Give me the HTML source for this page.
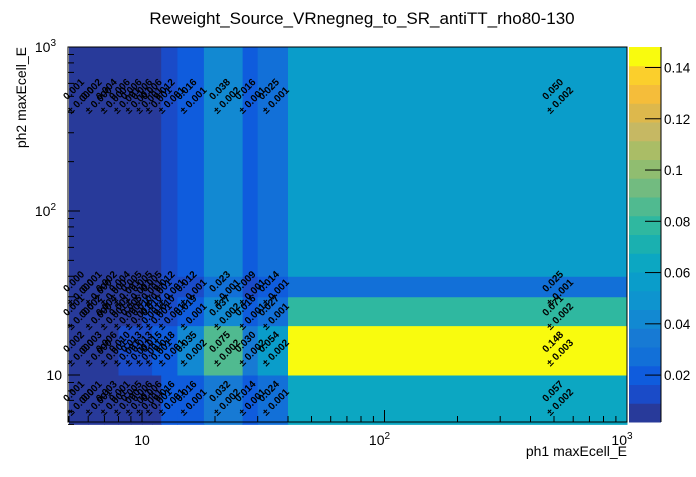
<!DOCTYPE html>
<html><head><meta charset="utf-8"><style>
body{margin:0;background:#fff;}
svg text{font-family:"Liberation Sans",sans-serif;}
</style></head><body>
<svg id="c" width="696" height="472" xmlns="http://www.w3.org/2000/svg">
<text x="362" y="24" font-size="17" text-anchor="middle">Reweight_Source_VRnegneg_to_SR_antiTT_rho80-130</text>
<g id="cells"></g><g id="labels"></g><g id="axes"></g><g id="cbar"></g>
<text x="627" y="456" font-size="14" text-anchor="end">ph1 maxEcell_E</text>
<text transform="translate(26,47) rotate(-90)" font-size="14" text-anchor="end">ph2 maxEcell_E</text>
</svg>
<script>
const xEdges=[5,6,7,8,9,10,11,12,14,18,26,30,40,1000];
const yEdges=[5,10,20,30,40,1000];
const row0=[0.001,0.001,0.003,0.001,0.005,0.006,0.006,0.016,0.016,0.032,0.014,0.024,0.057];
const row1=[0.002,0.003,0.006,0.010,0.013,0.013,0.015,0.018,0.035,0.075,0.030,0.054,0.148];
const row2=[0.001,0.002,0.004,0.001,0.005,0.010,0.010,0.010,0.019,0.037,0.016,0.027,0.071];
const row3=[0.000,0.001,0.002,0.004,0.005,0.005,0.005,0.012,0.012,0.023,0.009,0.014,0.025];
const row4=[0.001,0.002,0.004,0.006,0.006,0.006,0.006,0.012,0.016,0.038,0.016,0.025,0.050];
const err0=[0.000,0.001,0.001,0.000,0.001,0.001,0.001,0.001,0.001,0.002,0.001,0.001,0.002];
const err1=[0.000,0.000,0.001,0.001,0.001,0.001,0.001,0.001,0.002,0.002,0.002,0.002,0.003];
const err2=[0.000,0.000,0.001,0.000,0.001,0.001,0.001,0.001,0.001,0.002,0.001,0.001,0.002];
const err3=[0.000,0.000,0.000,0.001,0.001,0.001,0.001,0.001,0.001,0.001,0.001,0.001,0.001];
const err4=[0.000,0.000,0.000,0.001,0.001,0.001,0.001,0.001,0.001,0.002,0.001,0.001,0.002];
const cbTicks=[0.02,0.04,0.06,0.08,0.1,0.12,0.14];
const palette=["#283a9a","#1a4bc8","#0f5cdd","#1270d8","#177ad4","#1289d2","#0e94cf","#0a9dca","#0ca7c2","#1ab0b0","#2fb8a0","#50ba90","#72bb80","#90bd70","#aabd66","#c6b863","#ddb84c","#f5bd3a","#fbcf2c","#f9fb0e"];
const zMin=0.0017,zMax=0.148,colorStep=0.0068;
const X0=68,X1=627,Y0=47,Y1=422;
function xs(v){return 142+242.5*(Math.log10(v)-1);}
function ys(v){return 375-164*(Math.log10(v)-1);}
function col(v){let b=Math.floor(v/colorStep);b=Math.max(0,Math.min(19,b));return palette[b];}
const NS="http://www.w3.org/2000/svg";
function mk(t,a,p){const e=document.createElementNS(NS,t);for(const k in a)e.setAttribute(k,a[k]);p.appendChild(e);return e;}
const rows=[row0,row1,row2,row3,row4],errs=[err0,err1,err2,err3,err4];
const cells=document.getElementById('cells'),labels=document.getElementById('labels');
for(let j=0;j<rows.length;j++)for(let i=0;i<xEdges.length-1;i++){
 const v=rows[j][i];
 const x=xs(xEdges[i]),x2=xs(xEdges[i+1]),y=ys(yEdges[j+1]),y2=ys(yEdges[j]);
 const r=mk('rect',{x:x,y:y,width:x2-x+0.5,height:y2-y+0.5,fill:col(v)},cells);
 
 
 const cx=xs((xEdges[i]+xEdges[i+1])/2),cy=ys((yEdges[j]+yEdges[j+1])/2);
 const t=mk('text',{x:cx-3,y:cy-2,'font-size':10,'font-weight':'bold','text-anchor':'middle',transform:`rotate(-45 ${cx-3} ${cy-2})`},labels);
 t.textContent=v.toFixed(3);
 
 
 const e=mk('text',{x:cx+4,y:cy+9,'font-size':10,'font-weight':'bold','text-anchor':'middle',transform:`rotate(-45 ${cx+4} ${cy+9})`},labels);
 e.textContent='± '+errs[j][i].toFixed(3);
 
 
}
const ax=document.getElementById('axes');
mk('rect',{x:X0,y:Y0,width:X1-X0,height:Y1-Y0,fill:'none',stroke:'#000','stroke-width':1},ax);
for(const d of [1,10,100]){for(let k=1;k<10;k++){const v=d*k;if(v<5||v>1000)continue;const x=xs(v);mk('line',{x1:x,x2:x,y1:Y1,y2:Y1-(k==1?12:6),stroke:'#000'},ax);}}
for(const d of [1,10,100]){for(let k=1;k<10;k++){const v=d*k;if(v<5||v>1000)continue;const y=ys(v);mk('line',{x1:X0,x2:X0+(k==1?12:6),y1:y,y2:y,stroke:'#000'},ax);}}
mk('line',{x1:X0,x2:X0+12,y1:Y0,y2:Y0,stroke:'#000'},ax);
mk('line',{x1:X1,x2:X1,y1:Y1,y2:Y1-12,stroke:'#000'},ax);
const vals=[10,100,1000];
vals.forEach((v,i)=>{const t=mk('text',{x:xs(v)-(i?5:0),y:445,'font-size':14,'text-anchor':'middle'},ax);t.textContent='10';if(i){const s=mk('tspan',{'font-size':10,dy:-6},t);s.textContent=i==1?'2':'3';}
 
 const u=mk('text',{x:i?56:62,y:ys(v)+5,'font-size':14,'text-anchor':'end'},ax);u.textContent='10';if(i){const s=mk('tspan',{'font-size':10,dy:-6},u);s.textContent=i==1?'2':'3';}
 });
const cb=document.getElementById('cbar');
const bh=(Y1-Y0)/20;
palette.forEach((c,k)=>{const r=mk('rect',{x:629,y:Y1-(k+1)*bh,width:32,height:bh+0.5,fill:c},cb);
 });
mk('line',{x1:661,x2:661,y1:Y0,y2:Y1,stroke:'#000'},cb);
cbTicks.forEach(v=>{const y=Y1-(v-zMin)/(zMax-zMin)*(Y1-Y0);mk('line',{x1:645,x2:661,y1:y,y2:y,stroke:'#000'},cb);
 const t=mk('text',{x:664,y:y+5,'font-size':13.5},cb);t.textContent=String(v);
 });
</script>
</body></html>
